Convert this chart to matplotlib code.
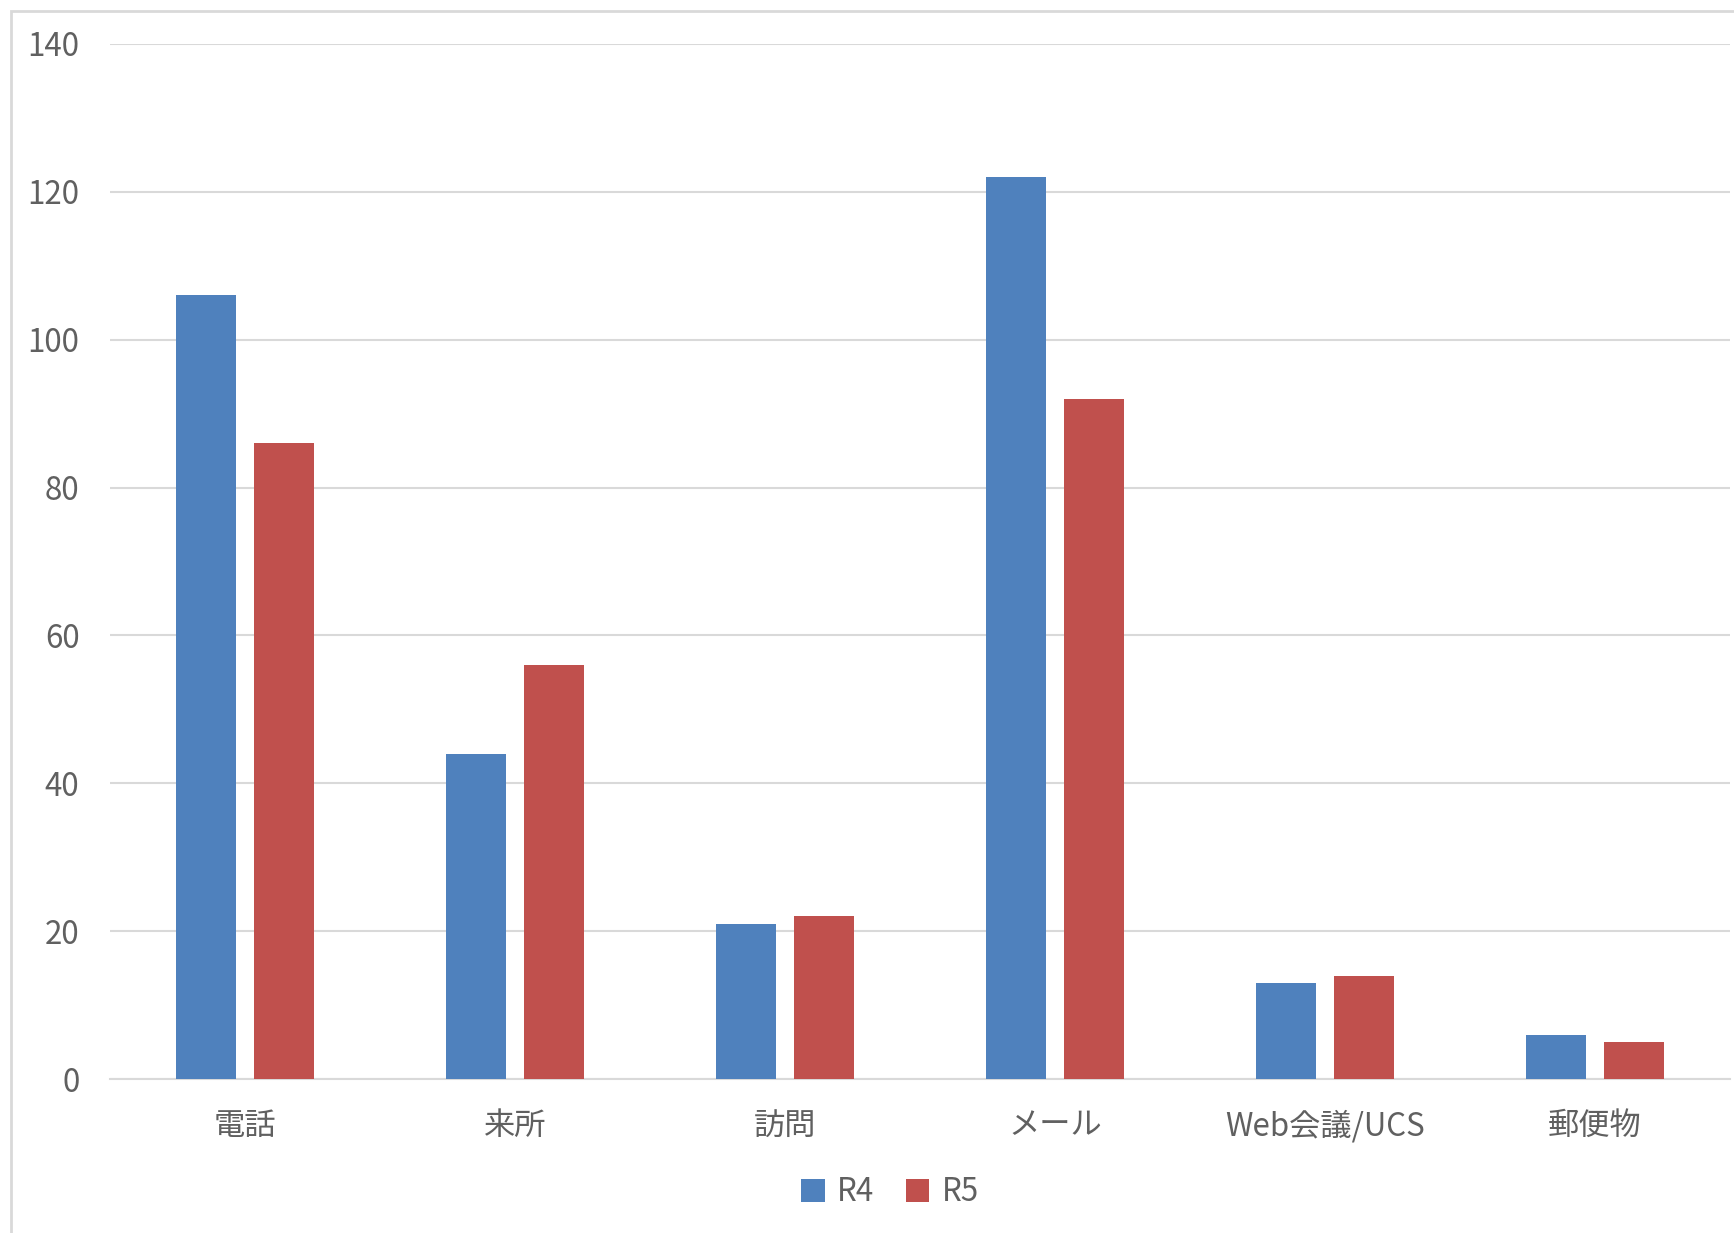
import numpy as np
import matplotlib
matplotlib.use('Agg')
import matplotlib.pyplot as plt
from matplotlib.patches import Rectangle

plt.rcParams['font.family'] = ['Noto Sans CJK JP', 'DejaVu Sans']

categories = ['電話', '来所', '訪問', 'メール', 'Web会議/UCS', '郵便物']
r4 = [106, 44, 21, 122, 13, 6]
r5 = [86, 56, 22, 92, 14, 5]
yticks = [0, 20, 40, 60, 80, 100, 120, 140]

text_color = '#606060'
grid_color = '#D9D9D9'

fig = plt.figure(figsize=(17.34, 12.33), dpi=100)
ax = fig.add_axes([110 / 1734, 1 - 1079 / 1233, 1620 / 1734, (1079 - 44) / 1233])

x = np.arange(len(categories))
w = 0.222
ax.bar(x - 0.143, r4, width=w, color='#4F81BD', label='R4', zorder=3)
ax.bar(x + 0.143, r5, width=w, color='#C0504D', label='R5', zorder=3)

ax.set_xlim(-0.5, len(categories) - 0.5)
ax.set_ylim(0, 140)
ax.set_yticks(yticks)
ax.set_xticks(x)
ax.set_xticklabels(categories)
ax.yaxis.grid(True, color=grid_color, linewidth=1.5, zorder=0)
ax.tick_params(axis='both', length=0, labelsize=22.5, colors=text_color)
ax.tick_params(axis='y', pad=22)
ax.tick_params(axis='x', pad=22)
for s in ['top', 'right', 'left']:
    ax.spines[s].set_visible(False)
ax.spines['bottom'].set_color(grid_color)
ax.spines['bottom'].set_linewidth(1.5)

fig.legend(loc='center', bbox_to_anchor=(890 / 1734, 1 - 1192 / 1233), ncol=2,
           frameon=False, fontsize=22.5, handlelength=0.75, handleheight=0.75,
           handletextpad=0.4, columnspacing=1.0, labelcolor=text_color)

# outer chart border
fig.patches.append(Rectangle((11 / 1734, -0.1), 1.2, 1 - 11 / 1233 + 0.1,
                             transform=fig.transFigure, fill=False,
                             edgecolor=grid_color, linewidth=2))

fig.savefig('out.png', dpi=100)
